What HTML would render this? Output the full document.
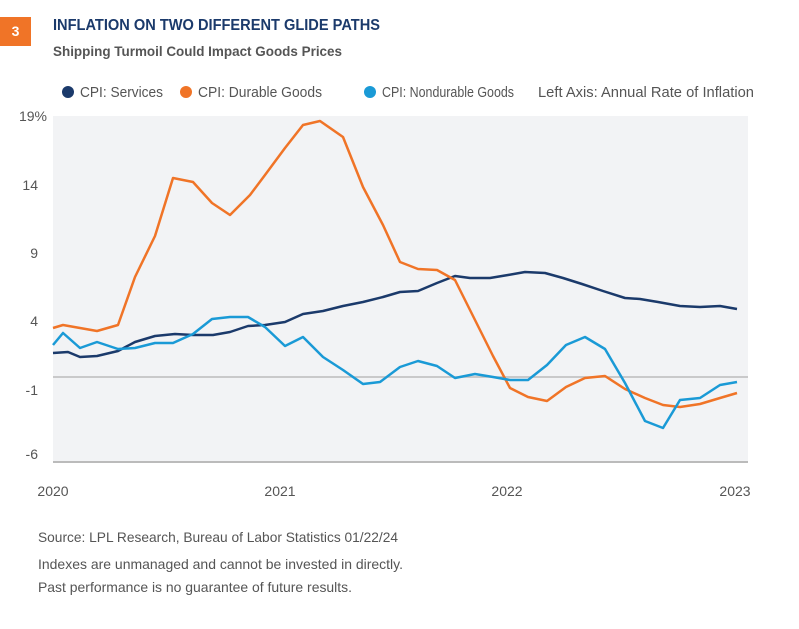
<!DOCTYPE html>
<html><head><style>
body{margin:0;width:799px;height:629px;background:#fff;font-family:"Liberation Sans",sans-serif;position:relative;overflow:hidden}
</style></head><body>
<div style="position:absolute;left:0;top:17px;width:31px;height:29px;background:#f07427;color:#fff;font-weight:bold;font-size:14px;text-align:center;line-height:29px">3</div>
<svg width="799" height="629" style="position:absolute;left:0;top:0" font-family="Liberation Sans, sans-serif">
<text x="53" y="30" font-size="16" font-weight="bold" fill="#1b3a6b" textLength="327" lengthAdjust="spacingAndGlyphs">INFLATION ON TWO DIFFERENT GLIDE PATHS</text>
<text x="53" y="56" font-size="14" font-weight="bold" fill="#555" textLength="289" lengthAdjust="spacingAndGlyphs">Shipping Turmoil Could Impact Goods Prices</text>
<g font-size="15" fill="#555">
<circle cx="68" cy="92" r="6" fill="#1b3a6b"/><text x="80" y="97" textLength="83" lengthAdjust="spacingAndGlyphs">CPI: Services</text>
<circle cx="186" cy="92" r="6" fill="#f07427"/><text x="198" y="97" textLength="124" lengthAdjust="spacingAndGlyphs">CPI: Durable Goods</text>
<circle cx="370" cy="92" r="6" fill="#1a9ad6"/><text x="382" y="97" textLength="132" lengthAdjust="spacingAndGlyphs">CPI: Nondurable Goods</text>
<text x="538" y="97" textLength="216" lengthAdjust="spacingAndGlyphs">Left Axis: Annual Rate of Inflation</text>
</g>
<rect x="53" y="116" width="695" height="346" fill="#f2f3f5"/>
<line x1="53" y1="377" x2="748" y2="377" stroke="#bbb" stroke-width="1.5"/>
<line x1="53" y1="462" x2="748" y2="462" stroke="#bbb" stroke-width="2"/>
<g font-size="14" fill="#555" text-anchor="end">
<text x="47" y="121">19%</text><text x="38" y="190">14</text><text x="38" y="258">9</text><text x="38" y="326">4</text><text x="38" y="395">-1</text><text x="38" y="459">-6</text>
</g>
<g font-size="14" fill="#555" text-anchor="middle">
<text x="53" y="496">2020</text><text x="280" y="496">2021</text><text x="507" y="496">2022</text><text x="735" y="496">2023</text>
</g>
<g fill="none" stroke-width="2.5" stroke-linejoin="round">
<polyline stroke="#1b3a6b" points="53,353 68,352 80,357 97,356 118,351 135,342 155,336 175,334 193,335 213,335 230,332 248,326 265,325 285,322 303,314 323,311 343,306 363,302 383,297 400,292 418,291 437,283 455,276 470,278 490,278 508,275 525,272 545,273 563,278 582,284 603,291 625,298 640,299 658,302 680,306 700,307 720,306 737,309"/>
<polyline stroke="#f07427" points="53,328 63,325 80,328 97,331 118,325 135,277 155,236 173,178 193,182 212,203 230,215 250,195 265,175 285,148 303,125 320,121 343,137 363,187 383,225 400,262 418,269 437,270 455,280 475,320 493,356 510,388 528,397 547,401 566,387 585,378 605,376 625,389 645,398 663,405 680,407 700,404 720,398 737,393"/>
<polyline stroke="#1a9ad6" points="53,345 63,333 80,348 97,342 118,349 135,348 155,343 173,343 193,334 212,319 230,317 248,317 265,327 285,346 303,337 323,357 343,370 363,384 380,382 400,367 418,361 437,366 455,378 475,374 493,377 510,380 528,380 547,365 566,345 585,337 605,349 625,383 645,421 663,428 680,400 700,398 720,385 737,382"/>
</g>
<g font-size="14" fill="#555">
<text x="38" y="542" textLength="360" lengthAdjust="spacingAndGlyphs">Source: LPL Research, Bureau of Labor Statistics 01/22/24</text>
<text x="38" y="569" textLength="365" lengthAdjust="spacingAndGlyphs">Indexes are unmanaged and cannot be invested in directly.</text>
<text x="38" y="592" textLength="314" lengthAdjust="spacingAndGlyphs">Past performance is no guarantee of future results.</text>
</g>
</svg>
</body></html>
